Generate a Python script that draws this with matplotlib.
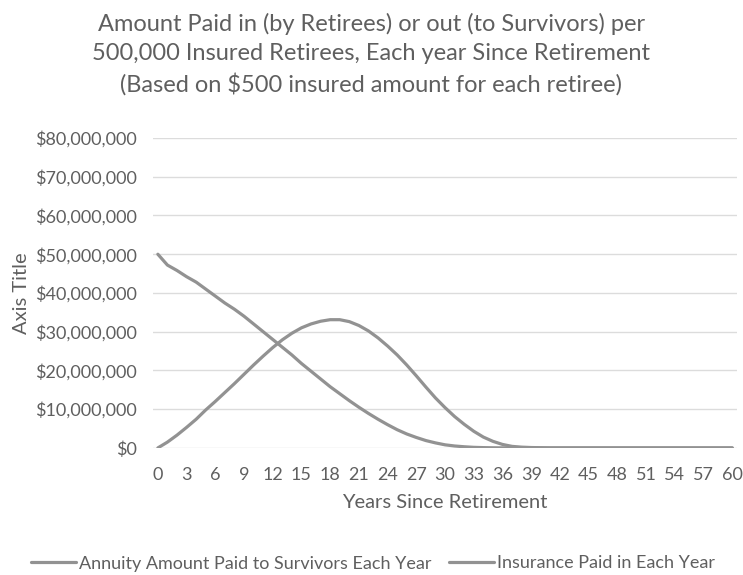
import matplotlib
matplotlib.use("Agg")
import matplotlib.pyplot as plt
from matplotlib.ticker import FuncFormatter, MultipleLocator

plt.rcParams['font.family'] = ['Lato', 'DejaVu Sans']

years = list(range(0, 61))

# Annual amounts, in millions of dollars
annuity_to_survivors = [
    0.0, 1.5, 3.3, 5.3, 7.4, 9.8, 12.0, 14.3, 16.6, 19.0,
    21.4, 23.7, 25.9, 27.9, 29.6, 31.0, 32.0, 32.7, 33.1, 33.1,
    32.6, 31.6, 30.2, 28.4, 26.3, 24.0, 21.4, 18.6, 15.7, 12.9,
    10.4, 8.1, 6.1, 4.3, 2.8, 1.7, 0.9, 0.4, 0.2, 0.1,
    0.05, 0.0, 0.0, 0.0, 0.0, 0.0, 0.0, 0.0, 0.0, 0.0,
    0.0, 0.0, 0.0, 0.0, 0.0, 0.0, 0.0, 0.0, 0.0, 0.0, 0.0,
]
insurance_paid_in = [
    50.0, 47.2, 45.8, 44.2, 42.8, 41.0, 39.2, 37.4, 35.8, 34.0,
    32.0, 30.0, 28.0, 26.0, 24.0, 21.8, 19.8, 17.8, 15.8, 14.0,
    12.2, 10.5, 8.9, 7.4, 6.0, 4.7, 3.6, 2.7, 1.9, 1.3,
    0.8, 0.5, 0.3, 0.15, 0.08, 0.04, 0.02, 0.01, 0.0, 0.0,
    0.0, 0.0, 0.0, 0.0, 0.0, 0.0, 0.0, 0.0, 0.0, 0.0,
    0.0, 0.0, 0.0, 0.0, 0.0, 0.0, 0.0, 0.0, 0.0, 0.0, 0.0,
]
series_names = ["Annuity Amount Paid to Survivors Each Year",
                "Insurance Paid in Each Year"]

title = ("Amount Paid in (by Retirees) or out (to Survivors) per\n"
         "500,000 Insured Retirees, Each year Since Retirement\n"
         "(Based on $500 insured amount for each retiree)")

text_gray = "#5f5f5f"
line_gray = "#929292"
grid_gray = "#dcdcdc"

fig = plt.figure(figsize=(7.43, 5.75), dpi=100)
ax = fig.add_axes([0.206, 0.221, 0.786, 0.539])

scale = 1_000_000
ax.plot(years, [v * scale for v in annuity_to_survivors], color=line_gray,
        lw=2.3, label=series_names[0], solid_capstyle='round')
ax.plot(years, [v * scale for v in insurance_paid_in], color=line_gray,
        lw=2.3, label=series_names[1], solid_capstyle='round')

ax.set_xlim(-0.5, 60.5)
ax.set_ylim(0, 80_000_000)
ax.yaxis.set_major_locator(MultipleLocator(10_000_000))
ax.yaxis.set_major_formatter(FuncFormatter(lambda v, p: f"${v:,.0f}"))
ax.set_xticks(years[::3])
ax.set_xticklabels([str(y) for y in years[::3]])

ax.grid(axis='y', color=grid_gray, lw=1.0)
ax.set_axisbelow(True)
for s in ax.spines.values():
    s.set_visible(False)
ax.tick_params(length=0, labelsize=13, colors=text_gray)
ax.tick_params(axis='x', pad=14)
ax.tick_params(axis='y', pad=11.5)

ax.set_xlabel("Years Since Retirement", fontsize=14.5, color=text_gray,
              labelpad=7.5)
ax.set_ylabel("Axis Title", fontsize=14.5, color=text_gray, labelpad=4)

fig.text(0.5, 0.906, title, ha='center', va='center', fontsize=17,
         color=text_gray, linespacing=1.45)

leg = fig.legend(loc='center', bbox_to_anchor=(0.502, 0.02), ncol=2,
                 frameon=False, fontsize=13, handlelength=2.5,
                 handletextpad=0.17, columnspacing=0.95,
                 borderaxespad=0, borderpad=0)
for t in leg.get_texts():
    t.set_color(text_gray)

fig.savefig("out.png", dpi=100)
